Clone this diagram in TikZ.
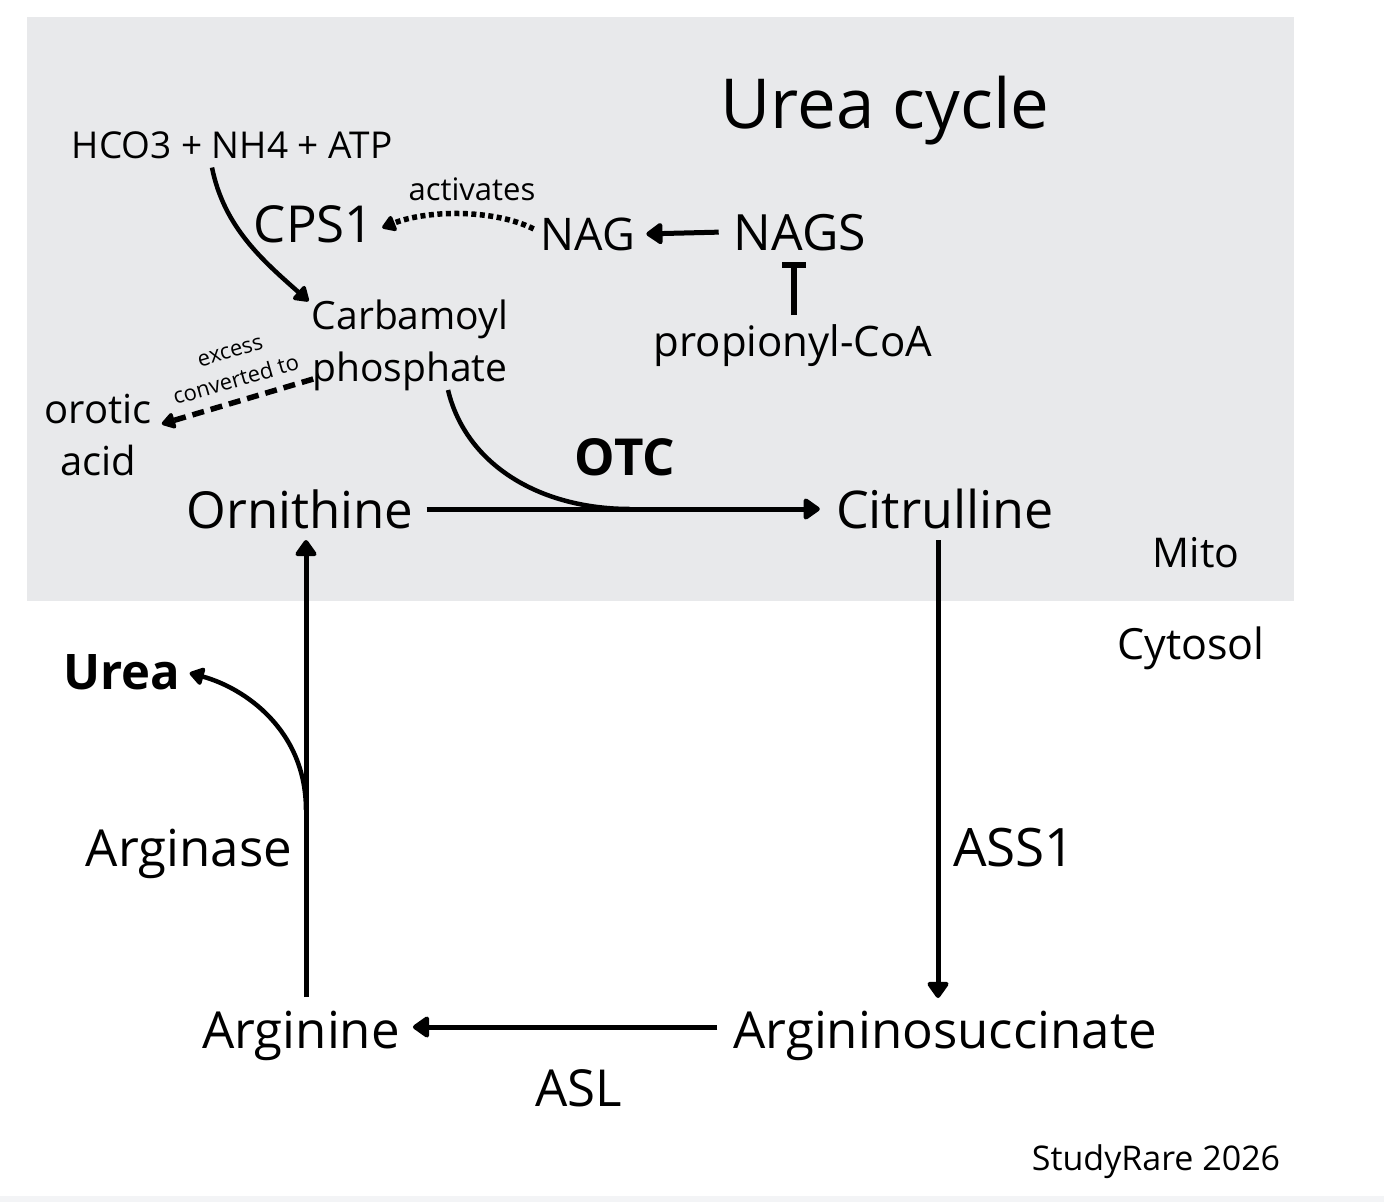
\documentclass[tikz,border=0pt]{standalone}
\usepackage{fontspec}
\setmainfont{Open Sans}
\usetikzlibrary{arrows.meta}
\definecolor{mitogray}{HTML}{E8E9EB}
\definecolor{stripgray}{HTML}{F3F4F6}
\newcommand{\fsz}[1]{\fontsize{#1}{#1}\selectfont}
\begin{document}
\begin{tikzpicture}[x=1pt,y=-1pt,
  txt/.style={inner sep=0pt, anchor=base, text=black},
  big/.style={txt, font=\fsz{51}},
  mid/.style={txt, font=\fsz{39}},
  tiny/.style={txt, font=\fsz{22}},
  bold/.style={txt, font=\bfseries\fsz{49}},
  flow/.style={line width=5pt, -{Triangle[length=18pt,width=24pt,round]}},
  curveflow/.style={line width=4.5pt, -{Triangle[length=16pt,width=20pt,round]}},
  dotflow/.style={line width=5.5pt, dash pattern=on 5pt off 3.5pt, -{Triangle[length=15pt,width=18pt,round]}},
  dashflow/.style={line width=5.5pt, dash pattern=on 12pt off 7pt, -{Triangle[length=15pt,width=18pt,round]}},
  inhib/.style={line width=5.5pt, -{Bar[width=24pt,line width=5.5pt]}},
]
\useasboundingbox (0,0) rectangle (1384,1202);
\fill[white] (0,0) rectangle (1384,1202);
\fill[stripgray] (0,1196) rectangle (1384,1202);
\fill[mitogray] (27,17) rectangle (1294,601);

% titles and compartment labels
\node[txt, font=\fsz{69}] (title) at (885,128) {Urea cycle};
\node[txt, font=\fsz{41}] (mito) at (1196,567) {Mito};
\node[txt, font=\fsz{43}] (cyto) at (1191,659) {Cytosol};
\node[txt, font=\fsz{34}] (credit) at (1156,1170) {StudyRare 2026};

% mitochondrial part
\node[txt, font=\fsz{37}] (hco) at (232,158) {HCO3 + NH4 + ATP};
\node[big] (cps) at (314,242) {CPS1};
\node[txt, font=\fsz{31}] (act) at (472,200) {activates};
\node[txt, font=\fsz{45}] (nag) at (588,250) {NAG};
\node[txt, font=\fsz{50}] (nags) at (800,250) {NAGS};
\node[txt, font=\fsz{42}] (prop) at (793,356) {propionyl-CoA};
\node[mid] (carb) at (410,329) {Carbamoyl};
\node[mid] (phos) at (410,381) {phosphate};
\node[txt, font=\fsz{40}] (oro) at (98,423) {orotic};
\node[txt, font=\fsz{40}] (acid) at (98,475) {acid};
\node[tiny, rotate=16] (exc) at (232,358) {excess};
\node[tiny, rotate=16] (conv) at (238,387) {converted to};
\node[txt, font=\bfseries\fsz{51}] (otc) at (625,475) {OTC};
\node[big] (orn) at (300,528) {Ornithine};
\node[txt, font=\fsz{52}] (cit) at (945,528) {Citrulline};

% cytosolic part
\node[bold] (urea) at (122,689) {Urea};
\node[big] (argase) at (189,866) {Arginase};
\node[txt, font=\fsz{53}] (ass) at (1014,866) {ASS1};
\node[big] (arg) at (301,1048) {Arginine};
\node[big] (asuc) at (945,1048) {Argininosuccinate};
\node[big] (asl) at (579,1106) {ASL};

% connectors
\draw[curveflow]
  ([shift={(-20,9)}]hco.south) .. controls +(12,60) and +(-45,-40) .. ([shift={(-3,2)}]carb.north west);
\draw[dotflow] ([shift={(-7,-5)}]nag.west) .. controls +(-40,-20) and +(45,-18) .. ([shift={(8,4)}]cps.east);
\draw[flow] ([xshift=-15]nags.west) -- ([xshift=11]nag.east);
\draw[inhib] ([shift={(1,-41)}]prop.base) -- ([shift={(-6,12)}]nags.base);
\draw[dashflow] ([shift={(1,-2)}]phos.base west) -- ([shift={(10,1)}]oro.base east);
\coordinate (join) at (630,509);
\draw[line width=4.5pt] ([shift={(38,9)}]phos.base) .. controls +(18,75) and +(-90,0) .. (join);
\draw[flow] ([shift={(13,-19)}]orn.base east) -- ([shift={(-16,-19)}]cit.base west);
\draw[flow] ([shift={(-7,12)}]cit.base) -- ([shift={(-7,-50)}]asuc.base);
\draw[flow] ([shift={(-16,-21)}]asuc.base west) -- ([shift={(13,-21)}]arg.base east);
\draw[flow] ([shift={(5,-51)}]arg.base) -- ([shift={(6,12)}]orn.base);
\coordinate (branch) at (306,810);
\draw[curveflow] (branch) .. controls +(0,-80) and +(55,15) .. ([shift={(9,-16)}]urea.base east);
\end{tikzpicture}
\end{document}
